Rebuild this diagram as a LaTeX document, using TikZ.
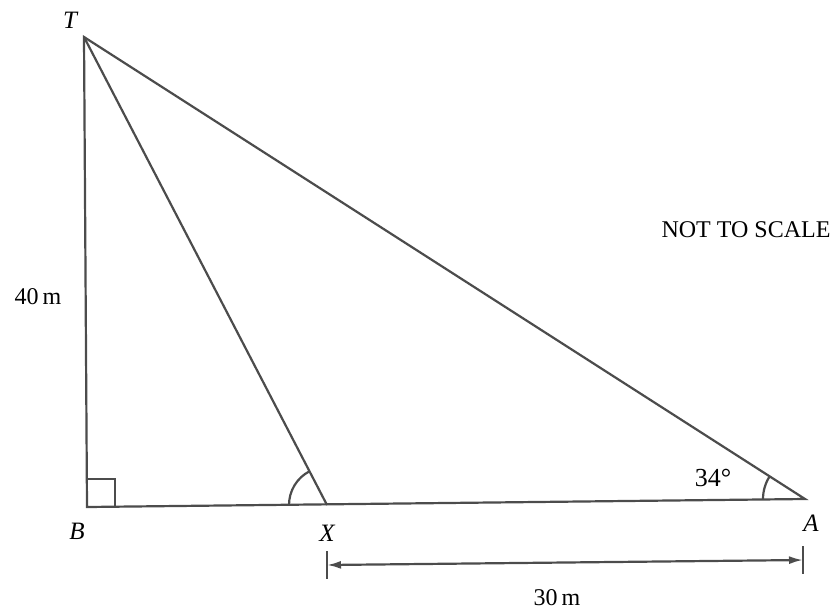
\documentclass[tikz,border=0pt]{standalone}
\usepackage{fontspec}
\setmainfont{Liberation Serif}
\usetikzlibrary{arrows.meta}

\begin{document}
\begin{tikzpicture}[x=0.5pt,y=-0.5pt,line width=1.1pt,
  font=\fontsize{12}{14}\selectfont,
  edge/.style={draw=black!70},
  pt/.style={font=\fontsize{12.5}{14}\selectfont\itshape}]
\useasboundingbox (0,0) rectangle (834,611);
\coordinate (T) at (84,37);
\coordinate (B) at (87,507);
\coordinate (X) at (327,505);
\coordinate (A) at (805,499);
\draw[edge] (T) -- (B) -- (A) -- cycle;
\draw[edge] (T) -- (X);
\draw[edge] (B) ++(0,-28) -- ++(28,0) -- ++(0,28);
\draw[edge] (X) ++(-38,0) arc[start angle=180, end angle=242.6, radius=38];
\draw[edge] (A) ++(-42,0) arc[start angle=180, end angle=212.6, radius=42];
\node[pt] (lT) at (70,20) {T};
\node[pt] (lB) at (77,531) {B};
\node[pt] (lX) at (327,533) {X};
\node[pt] (lA) at (811,523) {A};
\node (l40) at (38,297) {40\,m};
\node[font=\fontsize{13}{15}\selectfont] (l34) at (713,478) {34°};
\node (nts) at (746,230) {NOT TO SCALE};
\coordinate (d1) at (327,565);
\coordinate (d2) at (803,560);
\draw[edge] (327,551) -- (327,579);
\draw[edge] (803,546) -- (803,574);
\draw[edge, {Latex[length=7pt,width=4pt]}-{Latex[length=7pt,width=4pt]}] (d1) -- (d2);
\node (l30) at (557,598) {30\,m};
\end{tikzpicture}
\end{document}
